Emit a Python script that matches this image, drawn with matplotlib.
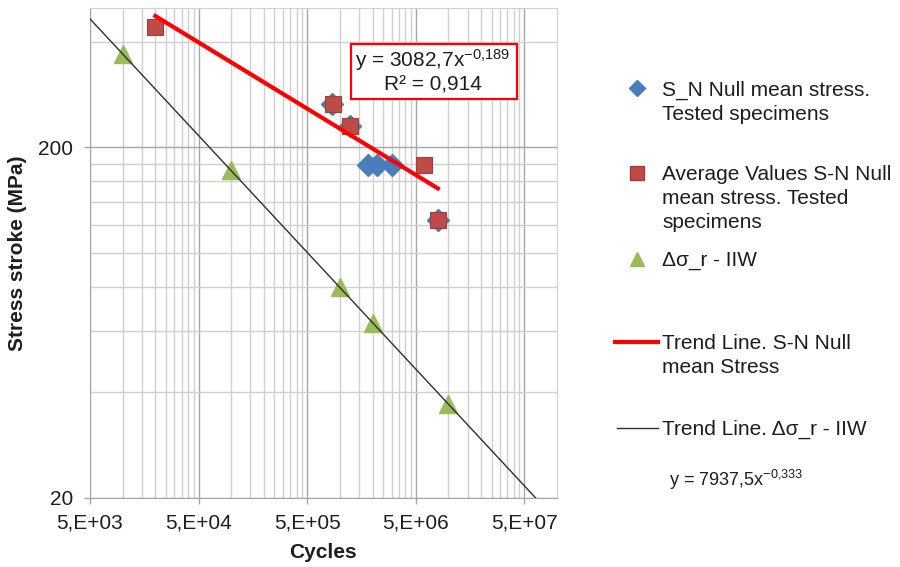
import numpy as np
import matplotlib.pyplot as plt
from matplotlib.lines import Line2D
from matplotlib.patches import Rectangle
from matplotlib.ticker import FixedLocator, NullFormatter

# ── Data ──────────────────────────────────────────────────────────────────────

# S_N null mean stress, tested specimens
sn_cycles = [8.5e5, 1.25e6, 1.8e6, 2.2e6, 3.0e6, 8.0e6]
sn_stress = [266, 231, 178, 178, 178, 124]

# average values, S-N null mean stress
avg_cycles = [2.0e4, 8.6e5, 1.25e6, 6.0e6, 8.0e6]
avg_stress = [440, 266, 231, 178, 124]

# delta sigma_r - IIW
iiw_cycles = [1e4, 1e5, 1e6, 2e6, 1e7]
iiw_stress = [370, 172, 80, 63, 37]

# trend lines as shown on the chart: y = a * x^b
trend_sn = (3082.7, -0.189)
trend_iiw = (7937.5, -0.333)

x_limits = (5e3, 1e8)
y_limits = (20, 500)
x_major = [5e3, 5e4, 5e5, 5e6, 5e7]
x_tick_labels = ["5,E+03", "5,E+04", "5,E+05", "5,E+06", "5,E+07"]
x_minor = [m * b for b in x_major[:-1] for m in range(2, 10)]
y_major = [20, 200]
y_tick_labels = ["20", "200"]
y_minor = [m * b for b in y_major for m in range(2, 10) if m * b < 500]

# ── Style ─────────────────────────────────────────────────────────────────────

plt.rcParams.update({
    "font.family": ["Liberation Sans", "DejaVu Sans"],
    "font.size": 15,
    "mathtext.default": "regular",
    "text.color": "#1e1e1e",
    "xtick.color": "#1e1e1e",
    "ytick.color": "#1e1e1e",
})

C_BLUE = "#4a7ebb"
C_RED = "#be4b48"
C_RED_EDGE = "#a03e3b"
C_GREEN = "#9bbb59"
C_TREND = "#ff0000"
C_IIW = "#303030"
C_GRID_MAJ = "#a6a6a6"
C_GRID_MIN = "#d0d0d0"

W, H = 900, 567
fig = plt.figure(figsize=(9, 5.67), dpi=100)
ax = fig.add_axes([90 / W, 1 - 498 / H, (557 - 90) / W, (498 - 8) / H])

ax.set_xscale("log")
ax.set_yscale("log")
ax.set_xlim(*x_limits)
ax.set_ylim(*y_limits)

ax.xaxis.set_major_locator(FixedLocator(x_major))
ax.xaxis.set_minor_locator(FixedLocator(x_minor))
ax.set_xticks(x_major, x_tick_labels)
ax.xaxis.set_minor_formatter(NullFormatter())
ax.yaxis.set_major_locator(FixedLocator(y_major))
ax.yaxis.set_minor_locator(FixedLocator(y_minor))
ax.set_yticks(y_major, y_tick_labels)
ax.yaxis.set_minor_formatter(NullFormatter())

ax.grid(which="major", color=C_GRID_MAJ, linewidth=1.0, zorder=0)
ax.grid(which="minor", color=C_GRID_MIN, linewidth=1.0, zorder=0)
ax.set_axisbelow(True)
ax.tick_params(which="major", length=4, width=1, tickdir="out")
ax.tick_params(axis="x", which="major", color=C_GRID_MAJ, pad=7)
ax.tick_params(axis="y", which="major", color=C_GRID_MAJ, pad=8)
ax.tick_params(which="minor", length=0)
for sp in ax.spines.values():
    sp.set_color(C_GRID_MIN)
ax.spines["left"].set_color(C_GRID_MAJ)
ax.spines["bottom"].set_color(C_GRID_MAJ)

# ── Series ────────────────────────────────────────────────────────────────────

ax.plot(sn_cycles, sn_stress, linestyle="none", marker="D", markersize=11,
        color=C_BLUE, markeredgecolor=C_BLUE, zorder=3)
ax.plot(avg_cycles, avg_stress, linestyle="none", marker="s", markersize=12,
        color=C_RED, markeredgecolor=C_RED_EDGE, markeredgewidth=0.8, zorder=4)
ax.plot(iiw_cycles, iiw_stress, linestyle="none", marker="^", markersize=13,
        color=C_GREEN, markeredgecolor=C_GREEN, zorder=3)

# trend lines from the chart equations
x_sn = np.array([min(avg_cycles), max(avg_cycles)])
ax.plot(x_sn, trend_sn[0] * x_sn ** trend_sn[1], color=C_TREND, linewidth=3, zorder=5)
x_iiw = np.array(x_limits)
ax.plot(x_iiw, trend_iiw[0] * x_iiw ** trend_iiw[1], color=C_IIW, linewidth=1.0, zorder=5)

# equation box for the S-N trend
fig.add_artist(Rectangle((351 / W, 1 - 99 / H), (517 - 351) / W, (99 - 44) / H,
                         transform=fig.transFigure, facecolor="white",
                         edgecolor=C_TREND, linewidth=1.6, zorder=6))
fig.text(433 / W, 1 - 60 / H, r"y = 3082,7x$^{-0{,}189}$", ha="center", va="center",
         fontsize=15, zorder=7)
fig.text(433 / W, 1 - 85 / H, "R² = 0,914", ha="center", va="center",
         fontsize=15, zorder=7)

# ── Axis labels ───────────────────────────────────────────────────────────────

fig.text(323 / W, 1 - 553 / H, "Cycles", ha="center", va="center", fontweight="bold")
fig.text(18 / W, 1 - 253 / H, "Stress stroke (MPa)", ha="center", va="center",
         rotation=90, fontweight="bold")

# ── Legend (placed by hand, Excel style) ─────────────────────────────────────

def fy(py):
    return 1 - py / H

TX = 662 / W
legend_markers = [
    ("D", 8.5, C_BLUE, C_BLUE, 88),
    ("s", 10, C_RED, C_RED_EDGE, 173),
    ("^", 10, C_GREEN, C_GREEN, 259),
]
for mk, ms, fc, ec, py in legend_markers:
    fig.add_artist(Line2D([637 / W], [fy(py)], marker=mk, markersize=ms,
                          color=fc, markeredgecolor=ec, linestyle="none",
                          transform=fig.transFigure))

legend_texts = [
    ("S_N Null mean stress.\nTested specimens", 89),
    ("Average Values S-N Null\nmean stress. Tested\nspecimens", 173),
    ("Δσ_r - IIW", 259),
    ("Trend Line. S-N Null\nmean Stress", 342),
    ("Trend Line. Δσ_r - IIW", 428),
]
for txt, py in legend_texts:
    fig.text(TX, fy(py - 8), txt, ha="left", va="top", linespacing=1.35)

fig.add_artist(Line2D([615 / W, 658 / W], [fy(342), fy(342)], color=C_TREND,
                      linewidth=3, transform=fig.transFigure))
fig.add_artist(Line2D([617 / W, 658 / W], [fy(428), fy(428)], color=C_IIW,
                      linewidth=1.0, transform=fig.transFigure))
fig.text(669 / W, fy(480), r"y = 7937,5x$^{-0{,}333}$", ha="left", va="center",
         fontsize=13)

fig.savefig("out.png", dpi=100)
